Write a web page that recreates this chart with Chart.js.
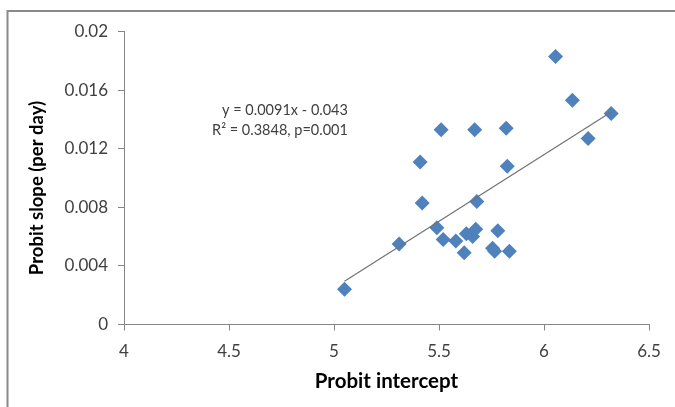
<!DOCTYPE html>
<html>
<head>
<meta charset="utf-8">
<script src="https://cdn.jsdelivr.net/npm/chart.js@4/dist/chart.umd.min.js"></script>
<style>
  html, body { margin: 0; padding: 0; background: #ffffff; }
  #wrap { position: relative; width: 675px; height: 407px; }
</style>
</head>
<body>
<div id="wrap"><canvas id="c" width="675" height="407"></canvas></div>
<script>
// Probit intercept (x) and probit slope per day (y), one entry per group
const intercepts = [5.05, 5.31, 5.41, 5.42, 5.49, 5.51, 5.52, 5.58, 5.62, 5.63, 5.66, 5.675,
                    5.67, 5.68, 5.755, 5.765, 5.78, 5.82, 5.825, 5.835, 6.055, 6.135, 6.21, 6.32];
const slopes = [0.0024, 0.0055, 0.0111, 0.0083, 0.0066, 0.0133, 0.0058, 0.0057, 0.0049, 0.0062, 0.0060, 0.0065,
                0.0133, 0.0084, 0.0052, 0.0050, 0.0064, 0.0134, 0.0108, 0.0050, 0.0183, 0.0153, 0.0127, 0.0144];

// Axis ticks
const xTicks = [4, 4.5, 5, 5.5, 6, 6.5];
const yTicks = [0, 0.004, 0.008, 0.012, 0.016, 0.02];

// Linear fit, as stated in the equation label
const fitSlope = 0.0091;
const fitIntercept = -0.043;
const fitRange = [5.05, 6.32];
const eqLabel = 'y = 0.0091x - 0.043';
const statsLabel = 'R\u00B2 = 0.3848, p=0.001';

const xTitle = 'Probit intercept';
const yTitle = 'Probit slope (per day)';

const FONT = 'Lato, "Open Sans", "DejaVu Sans", sans-serif';
const AXIS_GREY = '#868686';
const TEXT_GREY = '#404040';

const points = intercepts.map((x, i) => ({ x: x, y: slopes[i] }));
const fitLine = fitRange.map(x => ({ x: x, y: fitSlope * x + fitIntercept }));

// Outer frame, rotated y title and the equation text
const decorations = {
  id: 'decorations',
  beforeDraw(chart) {
    const ctx = chart.ctx;
    ctx.save();
    ctx.strokeStyle = '#8a8a8a';
    ctx.lineWidth = 2;
    ctx.beginPath();
    ctx.moveTo(7.5, 420);
    ctx.lineTo(7.5, 11);
    ctx.lineTo(700, 11);
    ctx.stroke();
    ctx.restore();
  },
  afterDraw(chart) {
    const ctx = chart.ctx;
    ctx.save();
    ctx.fillStyle = '#000000';
    ctx.font = 'bold 18.5px ' + FONT;
    ctx.textAlign = 'center';
    ctx.textBaseline = 'middle';
    ctx.translate(37, 188);
    ctx.rotate(-Math.PI / 2);
    ctx.fillText(yTitle, 0, 0);
    ctx.restore();

    ctx.save();
    ctx.fillStyle = TEXT_GREY;
    ctx.textAlign = 'center';
    ctx.textBaseline = 'middle';
    ctx.font = '14.5px ' + FONT;
    ctx.fillText(eqLabel, 285, 110.5);
    ctx.fillText(statsLabel, 280, 130);
    ctx.restore();
  }
};

new Chart(document.getElementById('c'), {
  type: 'scatter',
  data: {
    datasets: [
      {
        label: 'Groups',
        data: points,
        pointStyle: 'rectRot',
        pointRadius: 7.5,
        pointHoverRadius: 7.5,
        backgroundColor: '#4F81BD',
        borderColor: '#4F81BD',
        borderWidth: 0,
        order: 1
      },
      {
        label: 'Linear fit',
        type: 'line',
        data: fitLine,
        borderColor: '#727272',
        borderWidth: 1.2,
        pointRadius: 0,
        fill: false,
        order: 0
      }
    ]
  },
  options: {
    responsive: false,
    animation: false,
    devicePixelRatio: 1,
    layout: { padding: { left: 0, right: 26, top: 31.5, bottom: 0 } },
    plugins: {
      legend: { display: false },
      tooltip: { enabled: false }
    },
    scales: {
      x: {
        type: 'linear',
        min: 4,
        max: 6.5,
        afterBuildTicks(scale) { scale.ticks = xTicks.map(v => ({ value: v })); },
        afterFit(scale) { scale.height = 82.5; },
        ticks: {
          color: TEXT_GREY,
          font: { family: FONT, size: 17 },
          padding: 11,
          maxRotation: 0,
          callback: v => String(v)
        },
        grid: { drawOnChartArea: false, color: AXIS_GREY, tickLength: 6 },
        border: { display: true, color: AXIS_GREY, width: 1 },
        title: {
          display: true,
          text: xTitle,
          color: '#000000',
          font: { family: FONT, size: 20.5, weight: 'bold' },
          padding: { top: 4, bottom: 13 }
        }
      },
      y: {
        type: 'linear',
        min: 0,
        max: 0.02,
        afterBuildTicks(scale) { scale.ticks = yTicks.map(v => ({ value: v })); },
        afterFit(scale) { scale.width = 124; },
        ticks: {
          color: TEXT_GREY,
          font: { family: FONT, size: 17 },
          padding: 10,
          callback: v => String(+v.toFixed(3))
        },
        grid: { drawOnChartArea: false, color: AXIS_GREY, tickLength: 6 },
        border: { display: true, color: AXIS_GREY, width: 1 },
        title: { display: false }
      }
    }
  },
  plugins: [decorations]
});
</script>
</body>
</html>
